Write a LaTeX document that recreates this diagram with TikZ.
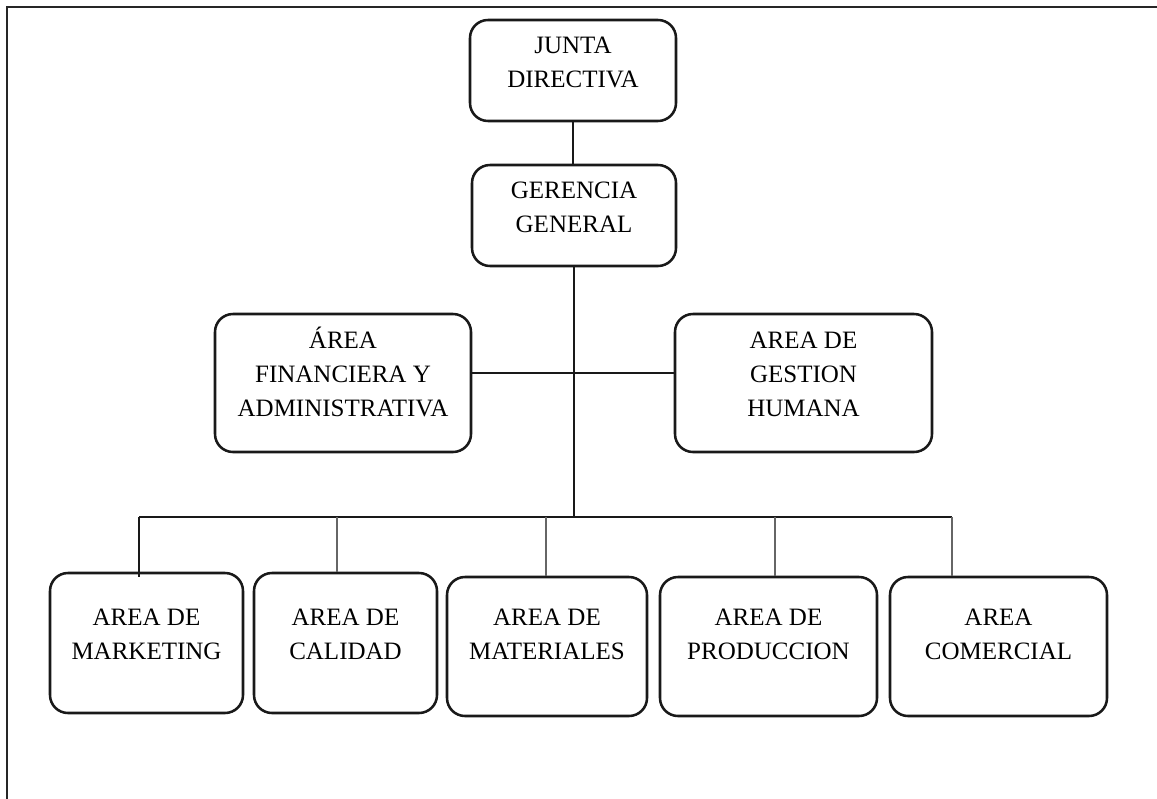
\documentclass[tikz,border=0pt]{standalone}
\usepackage{fontspec}
\setmainfont{Liberation Serif}
\usetikzlibrary{fit}
\begin{document}
\begin{tikzpicture}[x=0.75pt,y=-0.75pt,
  box/.style={draw=black!90, line width=1.9pt, rounded corners=13.5pt, inner sep=0pt},
  lbl/.style={align=center, font=\fontsize{18.75pt}{25.5pt}\selectfont, text=black, inner sep=0pt},
  link/.style={draw=black!90, line width=1.6pt},
  drop/.style={draw=black!60, line width=0.8pt},
  frame/.style={draw=black!85, line width=1.6pt}]
\useasboundingbox (0,0) rectangle (1157,799);

% page frame (left and top edges)
\draw[frame] (7,799) -- (7,7) -- (1157,7);

% upper levels
\node[box, lbl, fit={(470,20) (676,121)}] (jd) {JUNTA\\DIRECTIVA};
\node[box, lbl, fit={(472,165) (676,266)}] (gg) {GERENCIA\\GENERAL};
\node[box, lbl, fit={(215,314) (471,452)}] (fa) {ÁREA\\FINANCIERA Y\\ADMINISTRATIVA};
\node[box, lbl, fit={(675,314) (932,452)}] (gh) {AREA DE\\GESTION\\HUMANA};

% bottom row of areas
\node[box, fit={(50,573) (243,713)}] (mk) {};
\node[box, fit={(254,573) (437,713)}] (ca) {};
\node[box, fit={(447,577) (647,716)}] (ma) {};
\node[box, fit={(660,577) (877,716)}] (pr) {};
\node[box, fit={(890,577) (1107,716)}] (co) {};

\node[lbl] (mk-t) at (146.5,634) {AREA DE\\MARKETING};
\node[lbl] (ca-t) at (345.5,634) {AREA DE\\CALIDAD};
\node[lbl] (ma-t) at (547,634) {AREA DE\\MATERIALES};
\node[lbl] (pr-t) at (768.5,634) {AREA DE\\PRODUCCION};
\node[lbl] (co-t) at (998.5,634) {AREA\\COMERCIAL};

% connectors
\coordinate (mj) at (574,373);
\coordinate (bj) at (574,517);
\coordinate (b1) at (139,517);
\coordinate (b2) at (337,517);
\coordinate (b3) at (546,517);
\coordinate (b4) at (775,517);
\coordinate (b5) at (952,517);

\draw[link] (jd.south) -- (jd.south |- gg.north);
\draw[link] (gg.south) -- (bj);
\draw[link] (fa.east |- mj) -- (gh.west |- mj);
\draw[link] (b1) -- (b5);
\draw[link] (b1) -- ([yshift=-4pt]b1 |- mk.north);
\draw[drop] (b2) -- (b2 |- ca.north);
\draw[drop] (b3) -- (b3 |- ma.north);
\draw[drop] (b4) -- (b4 |- pr.north);
\draw[drop] (b5) -- (b5 |- co.north);
\end{tikzpicture}
\end{document}
